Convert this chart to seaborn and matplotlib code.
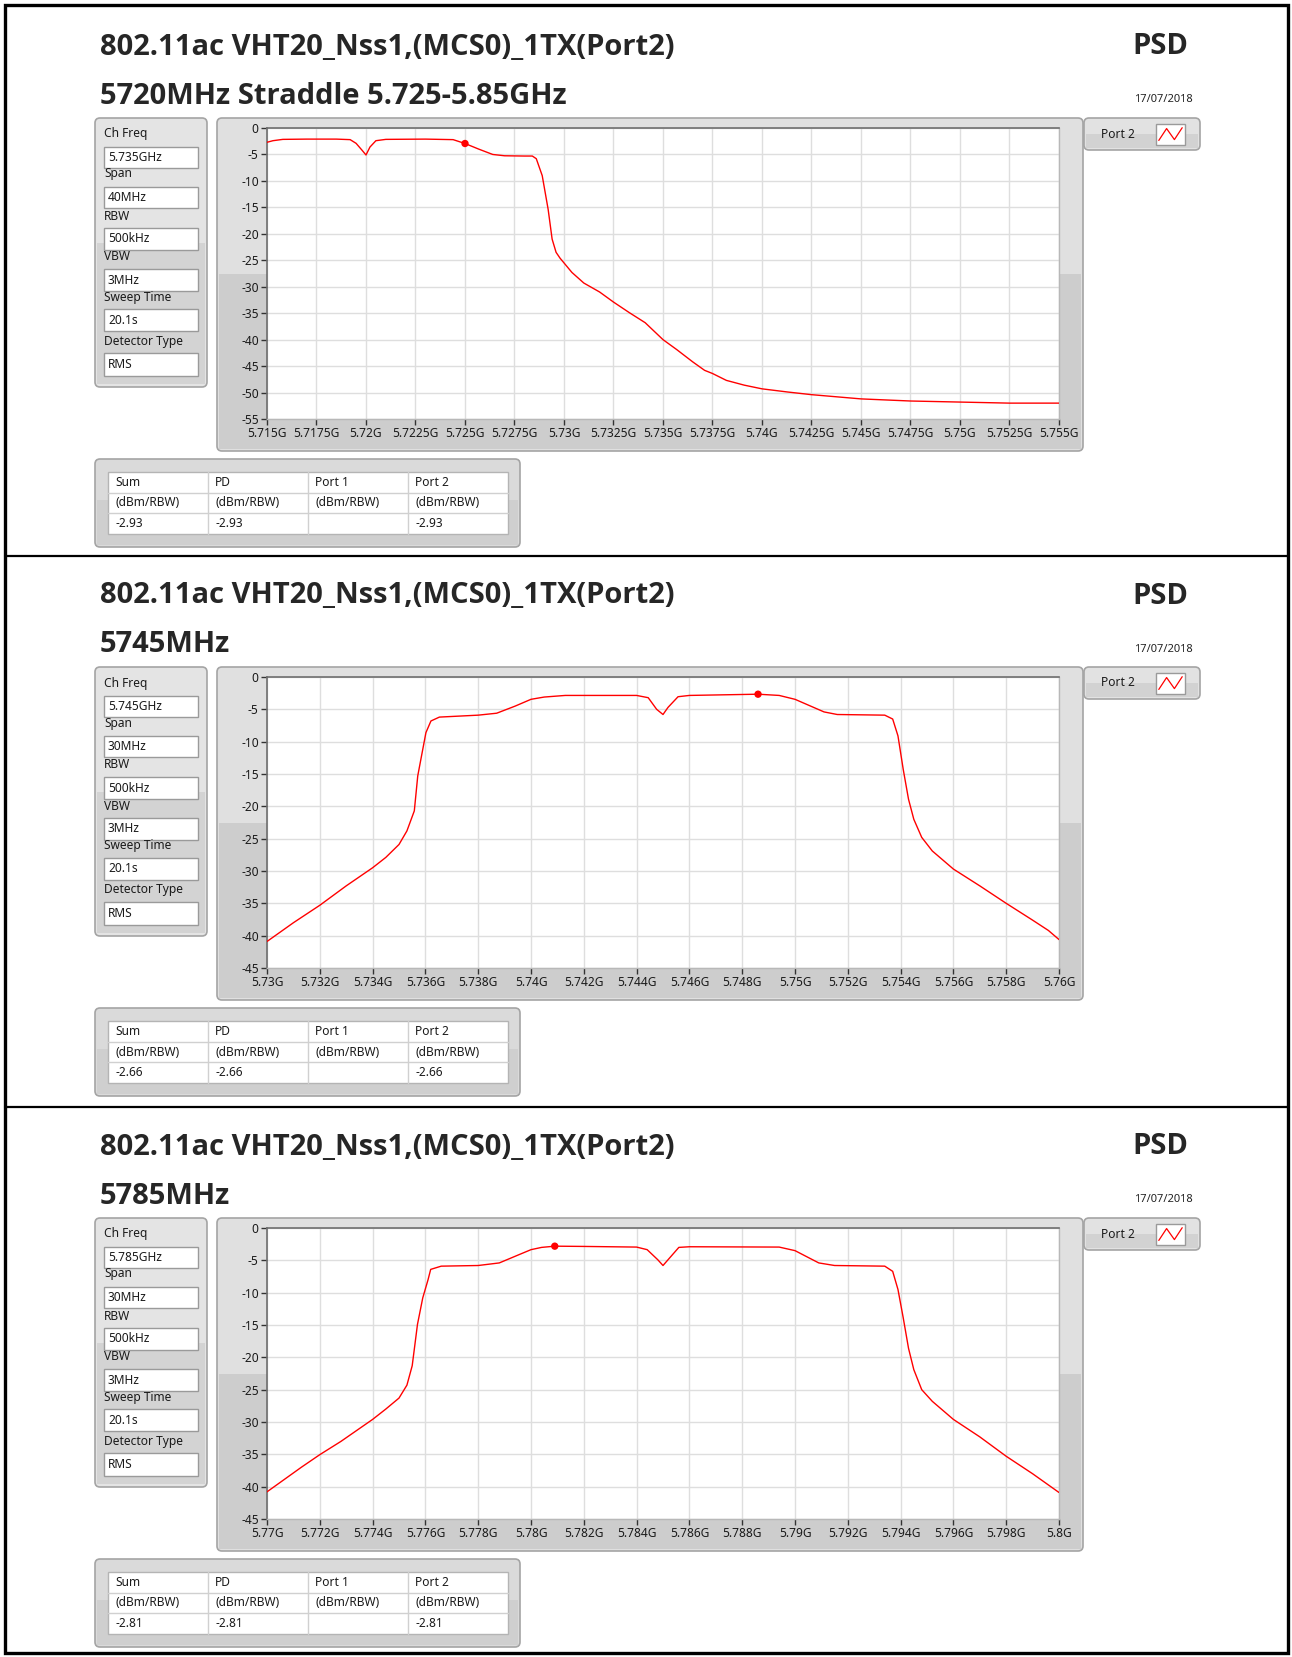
import matplotlib
matplotlib.use("Agg")
import matplotlib.pyplot as plt
import seaborn as sns
import pandas as pd
from matplotlib.patches import Rectangle, FancyBboxPatch

W, H = 1292, 1657

# ---- text content ----
TITLE = "802.11ac VHT20_Nss1,(MCS0)_1TX(Port2)"
SUBTITLES = ["5720MHz Straddle 5.725-5.85GHz", "5745MHz", "5785MHz"]
DATE = "17/07/2018"
SETTING_NAMES = ["Ch Freq", "Span", "RBW", "VBW", "Sweep Time", "Detector Type"]
SETTINGS = [
    ["5.735GHz", "40MHz", "500kHz", "3MHz", "20.1s", "RMS"],
    ["5.745GHz", "30MHz", "500kHz", "3MHz", "20.1s", "RMS"],
    ["5.785GHz", "30MHz", "500kHz", "3MHz", "20.1s", "RMS"],
]
TABLE_HEAD = ["Sum", "PD", "Port 1", "Port 2"]
TABLE_UNIT = ["(dBm/RBW)", "(dBm/RBW)", "(dBm/RBW)", "(dBm/RBW)"]
TABLE_VALUES = [
    ["-2.93", "-2.93", "", "-2.93"],
    ["-2.66", "-2.66", "", "-2.66"],
    ["-2.81", "-2.81", "", "-2.81"],
]

# ---- x tick labels (GHz) ----
XTICKS1 = ["5.715G", "5.7175G", "5.72G", "5.7225G", "5.725G", "5.7275G", "5.73G", "5.7325G",
           "5.735G", "5.7375G", "5.74G", "5.7425G", "5.745G", "5.7475G", "5.75G", "5.7525G", "5.755G"]
XTICKS2 = ["5.73G", "5.732G", "5.734G", "5.736G", "5.738G", "5.74G", "5.742G", "5.744G",
           "5.746G", "5.748G", "5.75G", "5.752G", "5.754G", "5.756G", "5.758G", "5.76G"]
XTICKS3 = ["5.77G", "5.772G", "5.774G", "5.776G", "5.778G", "5.78G", "5.782G", "5.784G",
           "5.786G", "5.788G", "5.79G", "5.792G", "5.794G", "5.796G", "5.798G", "5.8G"]
YTICKS1 = [0, -5, -10, -15, -20, -25, -30, -35, -40, -45, -50, -55]
YTICKS2 = [0, -5, -10, -15, -20, -25, -30, -35, -40, -45]

# ---- traces (GHz, dBm/RBW) ----
freq1 = [5.7150, 5.7153, 5.7158, 5.7170, 5.7185, 5.7192, 5.7195, 5.7198, 5.7200, 5.7202,
         5.7205, 5.7210, 5.7230, 5.7244, 5.7250, 5.7257, 5.7264, 5.7270, 5.7280, 5.7284,
         5.7286, 5.7289, 5.7292, 5.7294, 5.7296, 5.7298, 5.7304, 5.7310, 5.7318, 5.7325,
         5.7333, 5.7341, 5.7350, 5.7357, 5.7365, 5.7371, 5.7375, 5.7382, 5.7391, 5.7400,
         5.7413, 5.7425, 5.7450, 5.7475, 5.7500, 5.7525, 5.7550]
psd1 = [-2.7, -2.4, -2.15, -2.1, -2.1, -2.2, -2.9, -4.2, -5.1, -3.6,
        -2.4, -2.15, -2.1, -2.2, -2.93, -4.0, -5.0, -5.25, -5.3, -5.3,
        -5.8, -9.0, -15.4, -21.0, -23.5, -24.6, -27.3, -29.3, -31.0, -32.9,
        -34.9, -36.8, -40.0, -41.9, -44.2, -45.8, -46.4, -47.7, -48.6, -49.3,
        -49.9, -50.4, -51.2, -51.6, -51.8, -52.0, -52.0]

freq2 = [5.7300, 5.7310, 5.7320, 5.7330, 5.7340, 5.7345, 5.7350, 5.7353, 5.73558, 5.73571,
         5.73583, 5.73602, 5.73621, 5.73653, 5.7380, 5.7387, 5.7394, 5.7400, 5.7405, 5.7413,
         5.7440, 5.74444, 5.74476, 5.7450, 5.74519, 5.74557, 5.7460, 5.7486, 5.7494, 5.7500,
         5.7511, 5.7516, 5.7534, 5.7537, 5.7539, 5.7541, 5.7543, 5.7545, 5.7548, 5.7552,
         5.7560, 5.7570, 5.7580, 5.7590, 5.7596, 5.7600]
psd2 = [-40.9, -38.0, -35.3, -32.3, -29.5, -27.9, -25.9, -23.8, -20.7, -15.3,
        -12.7, -8.6, -6.8, -6.2, -5.9, -5.6, -4.5, -3.45, -3.1, -2.85,
        -2.85, -3.2, -5.0, -5.8, -4.7, -3.05, -2.85, -2.66, -2.85, -3.45,
        -5.4, -5.8, -5.9, -6.5, -9.1, -14.3, -18.9, -22.0, -24.8, -26.9,
        -29.7, -32.3, -35.0, -37.6, -39.2, -40.6]

freq3 = [5.7700, 5.7713, 5.7720, 5.7728, 5.7740, 5.7745, 5.7750, 5.7753, 5.7755, 5.7757,
         5.7759, 5.7761, 5.7762, 5.7766, 5.7780, 5.7788, 5.7795, 5.7800, 5.7804, 5.7809,
         5.7820, 5.7840, 5.7844, 5.7848, 5.7850, 5.7853, 5.7856, 5.7860, 5.7894, 5.7900,
         5.7909, 5.7915, 5.7934, 5.7937, 5.7939, 5.7941, 5.7943, 5.7945, 5.7948, 5.7952,
         5.7960, 5.7970, 5.7980, 5.7990, 5.8000]
psd3 = [-40.8, -37.0, -35.05, -33.0, -29.6, -28.0, -26.3, -24.3, -21.3, -14.9,
        -10.8, -8.0, -6.4, -5.9, -5.8, -5.4, -4.2, -3.35, -3.0, -2.81,
        -2.85, -2.95, -3.35, -4.9, -5.8, -4.4, -3.0, -2.9, -2.95, -3.5,
        -5.4, -5.8, -5.9, -6.7, -9.5, -13.9, -18.6, -21.9, -25.0, -26.8,
        -29.6, -32.3, -35.3, -38.0, -40.9]

MARKERS = [(5.7250, -2.93), (5.7486, -2.66), (5.7809, -2.81)]
ICON_Y = [0.15, 0.85, 0.2, 0.9]

PANELS = [
    (freq1, psd1, XTICKS1, YTICKS1),
    (freq2, psd2, XTICKS2, YTICKS2),
    (freq3, psd3, XTICKS3, YTICKS2),
]
OFFSETS = [0, 549, 1100]

sns.set_style("white")
plt.rcParams['font.family'] = ['Noto Sans', 'DejaVu Sans']

fig = plt.figure(figsize=(W / 100, H / 100), dpi=100)
bg = fig.add_axes([0, 0, 1, 1])
bg.set_xlim(0, W)
bg.set_ylim(H, 0)
bg.axis('off')


def box(x0, y0, x1, y1, fc, ec='#a4a4a4', lw=1.2, rounded=True, z=1):
    if rounded:
        p = FancyBboxPatch((x0, y0), x1 - x0, y1 - y0, boxstyle="round,pad=0,rounding_size=5",
                           fc=fc, ec=ec, lw=lw, zorder=z)
    else:
        p = Rectangle((x0, y0), x1 - x0, y1 - y0, fc=fc, ec=ec, lw=lw, zorder=z)
    bg.add_patch(p)


def px_axes(x0, y0, x1, y1):
    return fig.add_axes([x0 / W, 1 - y1 / H, (x1 - x0) / W, (y1 - y0) / H])


UI = dict(fontsize=8.6, color='#1a1a1a', va='center', ha='left')
HEAD = dict(fontsize=21, fontweight='bold', family='Open Sans', va='center')

for k, (fx, fy, xt, yt) in enumerate(PANELS):
    oy = OFFSETS[k]

    # headings
    bg.text(100, 47 + oy, TITLE, **HEAD)
    bg.text(100, 96 + oy, SUBTITLES[k], **HEAD)
    bg.text(1188, 47 + oy, "PSD", ha='right', **{k2: v for k2, v in HEAD.items()})
    bg.text(1193, 100 + oy, DATE, fontsize=8, va='center', ha='right', color='#222222')

    # settings panel
    box(95, 118 + oy, 207, 387 + oy, '#e4e4e4')
    box(97, 243 + oy, 205, 384 + oy, '#d3d3d3', ec='none', rounded=False)
    label_y = [134, 174, 216, 257, 297, 341]
    field_y = [(147, 168), (187, 208), (228, 250), (269, 291), (309, 331), (353, 376)]
    for name, val, ly, (f0, f1) in zip(SETTING_NAMES, SETTINGS[k], label_y, field_y):
        bg.text(104, ly + oy, name, zorder=3, **UI)
        box(104, f0 + oy, 198, f1 + oy, 'white', ec='#9a9a9a', lw=1, rounded=False, z=2)
        bg.text(108, (f0 + f1) / 2 + oy, val, zorder=3, **UI)

    # graph frame
    box(217, 118 + oy, 1083, 451 + oy, '#e0e0e0')
    box(219, 274 + oy, 1081, 449 + oy, '#cdcdcd', ec='none', rounded=False)

    # legend
    box(1084, 118 + oy, 1200, 150 + oy, '#e2e2e2')
    box(1086, 134 + oy, 1198, 148 + oy, '#d2d2d2', ec='none', rounded=False)
    bg.text(1101, 134 + oy, "Port 2", zorder=3, **UI)
    box(1156, 124 + oy, 1185, 145 + oy, 'white', ec='#9a9a9a', lw=1, rounded=False, z=2)
    icon = px_axes(1158, 126 + oy, 1183, 143 + oy)
    icon.plot(range(len(ICON_Y)), ICON_Y, color='#ff0000', lw=0.9)
    icon.set_xlim(-0.1, len(ICON_Y) - 0.9)
    icon.set_ylim(0, 1)
    icon.axis('off')

    # results table
    box(95, 459 + oy, 520, 547 + oy, '#dadada')
    box(97, 500 + oy, 518, 545 + oy, '#cfcfcf', ec='none', rounded=False)
    box(108, 472 + oy, 508, 534 + oy, 'white', ec='#b4b4b4', lw=1, rounded=False, z=2)
    cols = [108, 208, 308, 408, 508]
    rows = [472, 493, 513, 534]
    for cx in cols[1:-1]:
        bg.plot([cx, cx], [472 + oy, 534 + oy], color='#d0d0d0', lw=1, zorder=3)
    for ry in rows[1:-1]:
        bg.plot([108, 508], [ry + oy, ry + oy], color='#d0d0d0', lw=1, zorder=3)
    for i in range(4):
        for r, txt in enumerate([TABLE_HEAD[i], TABLE_UNIT[i], TABLE_VALUES[k][i]]):
            bg.text(cols[i] + 7, (rows[r] + rows[r + 1]) / 2 + oy, txt, zorder=4, **UI)

    # spectrum plot
    ax = px_axes(267, 128 + oy, 1059, 419 + oy)
    df = pd.DataFrame({'freq': fx, 'psd': fy})
    sns.lineplot(data=df, x='freq', y='psd', ax=ax, color='#ff0000', linewidth=1.0, zorder=4)
    mx, my = MARKERS[k]
    sns.scatterplot(x=[mx], y=[my], ax=ax, color='#ff0000', s=28, edgecolor='none', zorder=5)
    xpos = [float(t[:-1]) for t in xt]
    ax.set_xlim(xpos[0], xpos[-1])
    ax.set_ylim(yt[-1], 0)
    ax.set_xticks(xpos)
    ax.set_xticklabels(xt)
    ax.set_yticks(yt)
    ax.set_yticklabels([str(v) for v in yt])
    ax.set_xlabel('')
    ax.set_ylabel('')
    ax.set_facecolor('white')
    ax.grid(True, color='#dedede', linewidth=1)
    ax.set_axisbelow(True)
    ax.tick_params(direction='out', length=4, width=1, color='#333333', labelsize=8.6,
                   labelcolor='#1a1a1a', pad=2, bottom=True, left=True)
    for side in ['left', 'top']:
        ax.spines[side].set_color('#6e6e6e')
        ax.spines[side].set_linewidth(1.2)
    for side in ['right', 'bottom']:
        ax.spines[side].set_color('#b8b8b8')
        ax.spines[side].set_linewidth(1)

# outer frame and separators
bg.add_patch(Rectangle((5, 5), W - 9, H - 9, fc='none', ec='black', lw=2.4, zorder=10))
for sy in [556, 1107]:
    bg.plot([5, W - 4], [sy, sy], color='black', lw=1.6, zorder=10)

fig.savefig("out.png", dpi=100)
